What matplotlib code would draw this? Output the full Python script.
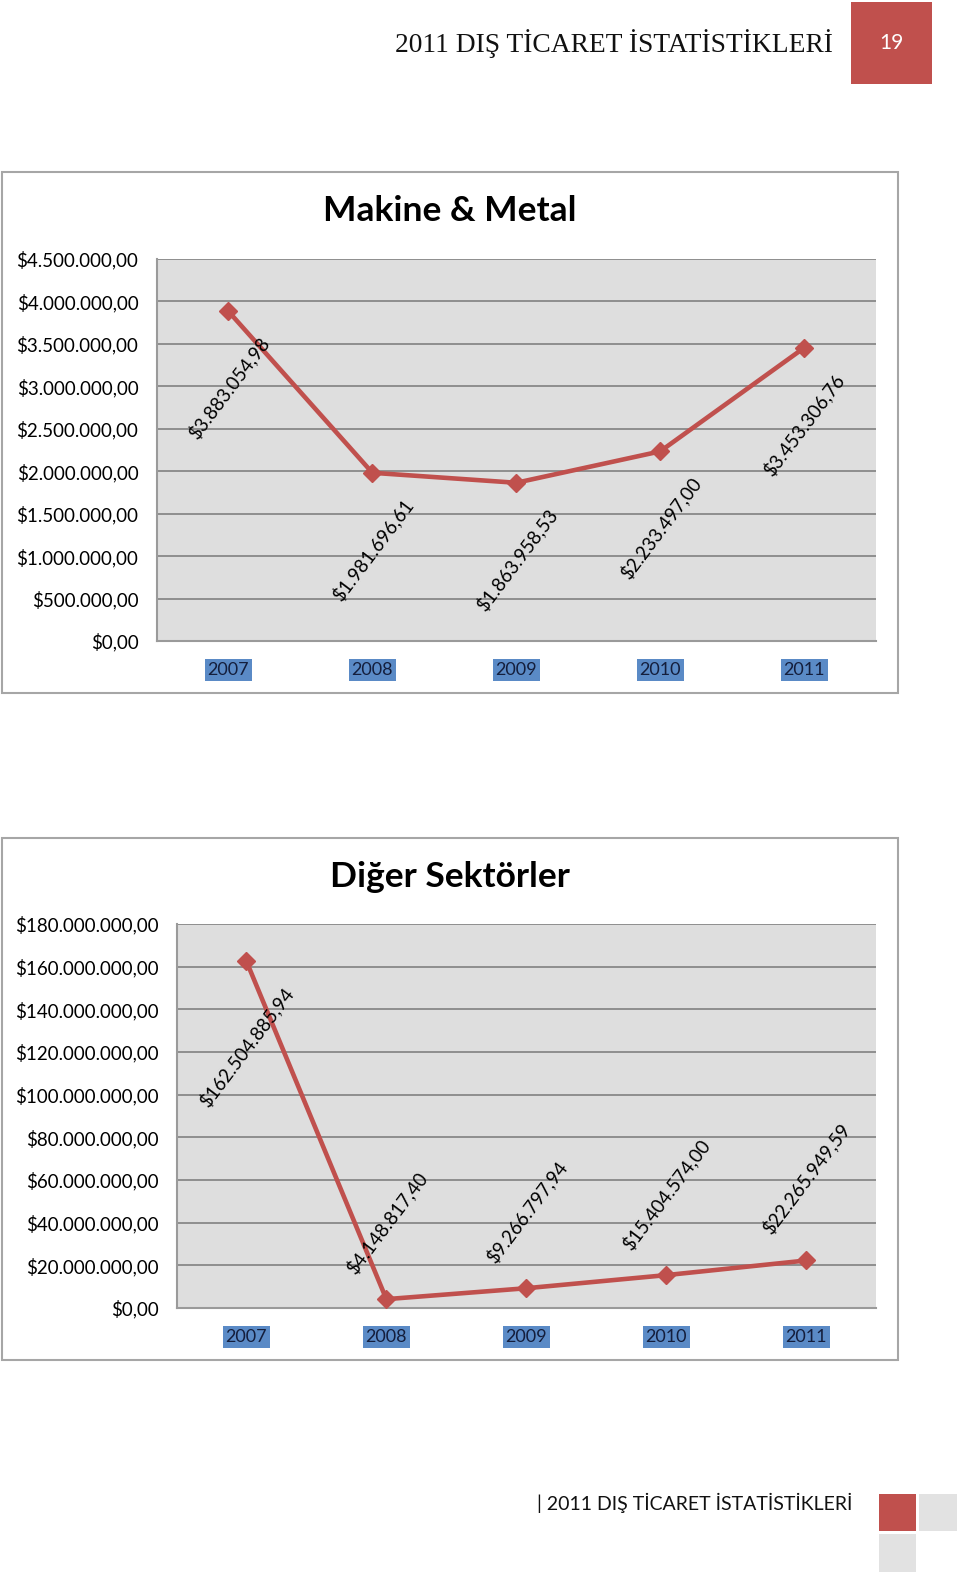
import numpy as np
import matplotlib
matplotlib.use('Agg')
import matplotlib.pyplot as plt
from matplotlib.patches import Rectangle
from matplotlib.ticker import FuncFormatter

years = ['2007', '2008', '2009', '2010', '2011']

makine_values = [3883054.98, 1981696.61, 1863958.53, 2233497.00, 3453306.76]
diger_values = [162504885.94, 4148817.40, 9266797.94, 15404574.00, 22265949.59]

makine_ticks = np.arange(0, 4500001, 500000)
diger_ticks = np.arange(0, 180000001, 20000000)

header_text = '2011 DIŞ TİCARET İSTATİSTİKLERİ'
page_no = '19'
footer_text = '| 2011 DIŞ TİCARET İSTATİSTİKLERİ'

W, H = 960, 1573
RED = '#C0504D'
plt.rcParams['font.family'] = ['Lato', 'DejaVu Sans']

fig = plt.figure(figsize=(W / 100, H / 100), dpi=100)
fig.patch.set_facecolor('white')


def px_axes(x0, y0, x1, y1, **kw):
    return fig.add_axes([x0 / W, 1 - y1 / H, (x1 - x0) / W, (y1 - y0) / H], **kw)


def px_rect(x0, y0, x1, y1, **kw):
    fig.add_artist(Rectangle((x0 / W, 1 - y1 / H), (x1 - x0) / W, (y1 - y0) / H,
                             transform=fig.transFigure, **kw))


def tr_money(v):
    s = '{:,.2f}'.format(v)
    return '$' + s.replace(',', '#').replace('.', ',').replace('#', '.')


def draw_chart(frame, area, title, title_y, values, ticks, label_offsets):
    px_rect(*frame, facecolor='white', edgecolor='#A6A6A6', lw=1.5, zorder=-5)
    fig.text(450 / W, 1 - title_y / H, title, ha='center', va='center',
             fontsize=25.5, fontweight='bold', color='black')

    ax = px_axes(*area)
    ax.set_facecolor('#DEDEDE')
    x = np.arange(len(years))
    ax.plot(x, values, color=RED, lw=3.3, marker='D', ms=9, zorder=3, clip_on=False)
    ax.set_xlim(-0.5, len(years) - 0.5)
    ax.set_ylim(ticks[0], ticks[-1])
    ax.set_yticks(ticks)
    ax.yaxis.set_major_formatter(FuncFormatter(lambda v, p: tr_money(v)))
    ax.set_xticks(x)
    ax.set_xticklabels(years, color='#141E3C',
                       bbox=dict(facecolor='#5A8AC6', edgecolor='none', pad=1.5))
    ax.tick_params(axis='both', length=0, labelsize=13.5)
    ax.tick_params(axis='x', labelsize=13)
    ax.tick_params(axis='y', pad=13)
    ax.tick_params(axis='x', pad=15)
    ax.yaxis.grid(True, color='#888888', lw=1.3)
    ax.set_axisbelow(True)
    for side in ['top', 'right']:
        ax.spines[side].set_visible(False)
    for side in ['left', 'bottom']:
        ax.spines[side].set_color('#9A9A9A')
        ax.spines[side].set_linewidth(1.5)

    for xi, v, off in zip(x, values, label_offsets):
        ax.annotate(tr_money(v), (xi, v), xytext=(0, off), textcoords='offset pixels',
                    ha='center', va='center', rotation=53, rotation_mode='anchor',
                    fontsize=13.5, color='black', zorder=4)
    return ax


# header
fig.text(614 / W, 1 - 44 / H, header_text, ha='center', va='center',
         fontsize=19.8, family='Liberation Serif', color='#111111')
px_rect(851, 2, 932, 84, facecolor=RED, edgecolor='none')
fig.text(891 / W, 1 - 43 / H, page_no, ha='center', va='center',
         fontsize=15, color='white')

draw_chart((2, 172, 898, 693), (156.5, 259, 876, 641), 'Makine & Metal', 211,
           makine_values, makine_ticks, [-77, -77, -77, -77, -77])
draw_chart((2, 838, 898, 1360), (176.5, 924, 876, 1308), 'Diğer Sektörler', 877,
           diger_values, diger_ticks, [-86, 76, 76, 81, 82])

# footer
fig.text(537 / W, 1 - 1503 / H, footer_text, ha='left', va='center',
         fontsize=14, color='#111111')
px_rect(879, 1494, 916, 1531, facecolor=RED, edgecolor='none')
px_rect(919, 1494, 957, 1531, facecolor='#E2E2E2', edgecolor='none')
px_rect(879, 1534, 916, 1572, facecolor='#E2E2E2', edgecolor='none')

fig.savefig('out.png', dpi=100)
